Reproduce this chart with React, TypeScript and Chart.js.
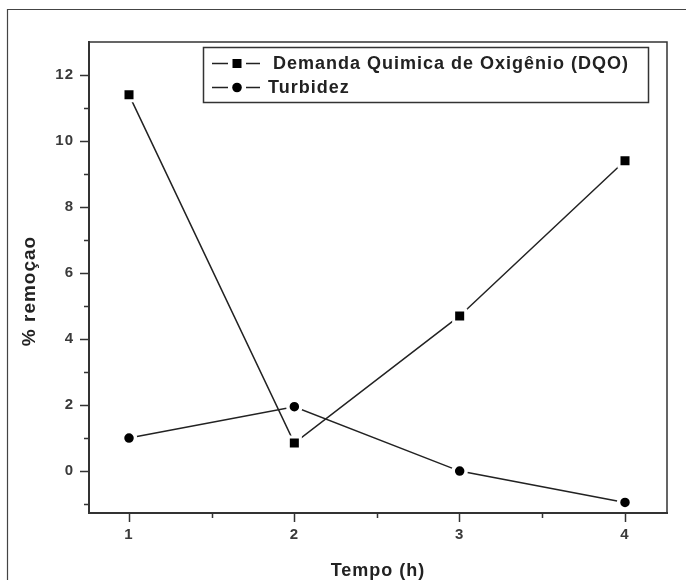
import React, { useEffect, useRef } from 'react';
import { Chart, registerables } from 'chart.js';

Chart.register(...registerables);

const HOURS = [1, 2, 3, 4];
const DQO = [11.4, 0.85, 4.7, 9.4];
const TURBIDEZ = [1.0, 1.95, 0.0, -0.95];
const SERIES_LABELS = ['Demanda Quimica de Oxigênio (DQO)', 'Turbidez'];
const X_TICKS = [1, 2, 3, 4];
const X_MINOR = [1.5, 2.5, 3.5];
const Y_TICKS = [0, 2, 4, 6, 8, 10, 12];
const Y_MINOR = [-1, 1, 3, 5, 7, 9, 11];
const X_TITLE = 'Tempo (h)';
const Y_TITLE = '% remoçao';

const FONT = "'Liberation Sans', Arial, sans-serif";
const INK = '#222';

function drawMarker(ctx: CanvasRenderingContext2D, kind: string, x: number, y: number) {
  ctx.fillStyle = '#000';
  if (kind === 'rect') {
    ctx.fillRect(x - 4.5, y - 4.5, 9, 9);
  } else {
    ctx.beginPath();
    ctx.arc(x, y, 4.8, 0, Math.PI * 2);
    ctx.fill();
  }
}

const decor = {
  id: 'decor',
  beforeDraw(chart: any) {
    const ctx = chart.ctx;
    ctx.save();
    ctx.fillStyle = '#fff';
    ctx.fillRect(0, 0, chart.width, chart.height);
    ctx.restore();
    (ctx as any).letterSpacing = '1px';
  },
  afterDraw(chart: any) {
    const { ctx, chartArea: a, scales } = chart;
    const xs = scales.x;
    const ys = scales.y;
    ctx.save();
    // outer frame
    ctx.strokeStyle = '#444';
    ctx.lineWidth = 1.2;
    ctx.beginPath();
    ctx.moveTo(7.5, chart.height);
    ctx.lineTo(7.5, 9.5);
    ctx.lineTo(chart.width, 9.5);
    ctx.stroke();
    // top / right plot border
    ctx.strokeStyle = '#333';
    ctx.lineWidth = 1.5;
    ctx.beginPath();
    ctx.moveTo(a.left, a.top);
    ctx.lineTo(a.right, a.top);
    ctx.lineTo(a.right, a.bottom);
    ctx.stroke();
    // minor ticks
    ctx.lineWidth = 1.5;
    ctx.beginPath();
    X_MINOR.forEach((v) => {
      const px = Math.round(xs.getPixelForValue(v)) + 0.5;
      ctx.moveTo(px, a.bottom);
      ctx.lineTo(px, a.bottom + 5);
    });
    Y_MINOR.forEach((v) => {
      const py = Math.round(ys.getPixelForValue(v)) + 0.5;
      ctx.moveTo(a.left, py);
      ctx.lineTo(a.left - 5, py);
    });
    ctx.stroke();

    // axis titles
    ctx.fillStyle = INK;
    ctx.font = `bold 18px ${FONT}`;
    (ctx as any).letterSpacing = '1px';
    ctx.textAlign = 'center';
    ctx.textBaseline = 'middle';
    ctx.fillText(X_TITLE, (a.left + a.right) / 2, 571);
    ctx.save();
    ctx.translate(30, 291);
    ctx.rotate(-Math.PI / 2);
    ctx.font = `bold 19px ${FONT}`;
    ctx.fillText(Y_TITLE, 0, 0);
    ctx.restore();

    // legend
    const bx = 203.5, by = 47.5, bw = 445, bh = 55;
    ctx.fillStyle = '#fff';
    ctx.fillRect(bx, by, bw, bh);
    ctx.strokeStyle = '#333';
    ctx.lineWidth = 1.5;
    ctx.strokeRect(bx, by, bw, bh);
    const rows = [
      { y: 63, kind: 'rect', text: SERIES_LABELS[0], tx: 273 },
      { y: 87, kind: 'circle', text: SERIES_LABELS[1], tx: 268 },
    ];
    rows.forEach((r) => {
      ctx.strokeStyle = INK;
      ctx.lineWidth = 1.6;
      ctx.beginPath();
      ctx.moveTo(212, r.y + 0.5);
      ctx.lineTo(228, r.y + 0.5);
      ctx.moveTo(246, r.y + 0.5);
      ctx.lineTo(260, r.y + 0.5);
      ctx.stroke();
      drawMarker(ctx, r.kind, 237, r.y + 0.5);
      ctx.fillStyle = INK;
      ctx.font = `bold 18px ${FONT}`;
      ctx.textAlign = 'left';
      ctx.textBaseline = 'middle';
      ctx.fillText(r.text, r.tx, r.y + 1);
    });
    ctx.restore();
  },
};

export default function App() {
  const ref = useRef<HTMLCanvasElement | null>(null);
  useEffect(() => {
    document.body.style.margin = '0';
    const canvas = ref.current;
    if (!canvas) return;
    const chart = new Chart(canvas, {
      type: 'line',
      data: {
        datasets: [
          {
            label: SERIES_LABELS[0],
            data: HOURS.map((h, i) => ({ x: h, y: DQO[i] })),
            borderColor: INK,
            borderWidth: 1.5,
            pointStyle: 'rect',
            pointRadius: 8.5,
            pointBackgroundColor: '#000',
            pointBorderColor: '#fff',
            pointBorderWidth: 3,
            tension: 0,
          },
          {
            label: SERIES_LABELS[1],
            data: HOURS.map((h, i) => ({ x: h, y: TURBIDEZ[i] })),
            borderColor: INK,
            borderWidth: 1.5,
            pointStyle: 'circle',
            pointRadius: 6.5,
            pointBackgroundColor: '#000',
            pointBorderColor: '#fff',
            pointBorderWidth: 3.5,
            tension: 0,
          },
        ],
      },
      options: {
        animation: false,
        responsive: true,
        maintainAspectRatio: false,
        layout: { padding: { top: 42, right: 19, bottom: 0, left: 0 } },
        plugins: { legend: { display: false }, tooltip: { enabled: false } },
        scales: {
          x: {
            type: 'linear',
            min: 0.758,
            max: 4.254,
            afterBuildTicks: (s: any) => {
              s.ticks = X_TICKS.map((v) => ({ value: v }));
            },
            afterFit: (s: any) => {
              s.height = 67;
            },
            grid: {
              display: true,
              drawOnChartArea: false,
              drawTicks: true,
              tickLength: 9,
              tickWidth: 1.5,
              tickColor: '#333',
            },
            border: { display: true, color: '#333', width: 2 },
            ticks: {
              color: '#3a3a3a',
              font: { family: FONT, size: 15, weight: 'bold' },
              padding: 4,
              maxRotation: 0,
              autoSkip: false,
              callback: (v: any) => String(v),
            },
          },
          y: {
            type: 'linear',
            min: -1.27,
            max: 13,
            afterBuildTicks: (s: any) => {
              s.ticks = Y_TICKS.map((v) => ({ value: v }));
            },
            afterFit: (s: any) => {
              s.width = 89;
            },
            grid: {
              display: true,
              drawOnChartArea: false,
              drawTicks: true,
              tickLength: 9,
              tickWidth: 1.5,
              tickColor: '#333',
            },
            border: { display: true, color: '#333', width: 2 },
            ticks: {
              color: '#3a3a3a',
              font: { family: FONT, size: 15, weight: 'bold' },
              padding: 6,
              autoSkip: false,
              callback: (v: any) => String(v),
            },
          },
        },
      },
      plugins: [decor],
    } as any);
    return () => chart.destroy();
  }, []);
  return (
    <div style={{ position: 'relative', width: 686, height: 580 }}>
      <canvas ref={ref} />
    </div>
  );
}
